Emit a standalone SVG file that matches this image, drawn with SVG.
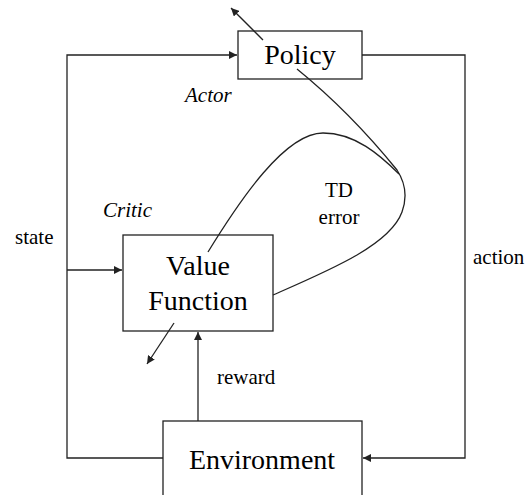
<svg xmlns="http://www.w3.org/2000/svg" width="528" height="495" viewBox="0 0 528 495">
  <style>
    .box { fill: #ffffff; stroke: #222222; stroke-width: 1.3; }
    .wire { fill: none; stroke: #222222; stroke-width: 1.3; }
  </style>
  <defs>
    <marker id="arrow" viewBox="0 0 10 10" refX="10" refY="5" markerWidth="8" markerHeight="8" markerUnits="userSpaceOnUse" orient="auto">
      <path d="M0,0 L10,5 L0,10 z" fill="#222222"/>
    </marker>
  </defs>
  <rect width="528" height="495" fill="#ffffff"/>

  <g id="connectors">
    <!-- state loop: environment -> left rail -> policy / value function -->
    <path class="wire" d="M163,458 H67 V55 H237" marker-end="url(#arrow)"/>
    <path class="wire" d="M67,270 H122" marker-end="url(#arrow)"/>
    <!-- action: policy -> right rail -> environment -->
    <path class="wire" d="M362,55 H465 V458 H363" marker-end="url(#arrow)"/>
    <!-- reward -->
    <path class="wire" d="M198,421 V332" marker-end="url(#arrow)"/>
    <!-- TD error loop -->
    <path class="wire" d="M208,252 C240,200 285,133 323,133 C355,133 380,155 399,174"/>
    <path class="wire" d="M297,69 Q350,112 397,170 Q410,190 402,212 C390,245 330,270 273,295"/>
    <!-- parameter update arrows -->
    <path class="wire" d="M263,40 L231,8" marker-end="url(#arrow)"/>
    <path class="wire" d="M174,323 L147,364" marker-end="url(#arrow)"/>
  </g>

  <g id="policy">
    <rect class="box" x="238" y="31" width="124" height="48" fill-opacity="0"/>
    <text x="300" y="64" font-size="28" text-anchor="middle" style="font-family: 'Liberation Serif'">Policy</text>
  </g>

  <g id="value-function">
    <rect class="box" x="123" y="235" width="150" height="96" fill-opacity="0"/>
    <text x="198" y="275" font-size="28" text-anchor="middle" style="font-family: 'Liberation Serif'">Value</text>
    <text x="198" y="310" font-size="28" text-anchor="middle" style="font-family: 'Liberation Serif'">Function</text>
  </g>

  <g id="environment">
    <rect class="box" x="163" y="421" width="199" height="90"/>
    <text x="262" y="469" font-size="28" text-anchor="middle" style="font-family: 'Liberation Serif'">Environment</text>
  </g>

  <g id="labels">
    <text x="185" y="102" font-size="21" font-style="italic" style="font-family: 'Liberation Serif'">Actor</text>
    <text x="103" y="217" font-size="21" font-style="italic" style="font-family: 'Liberation Serif'">Critic</text>
    <text x="339" y="197" font-size="21" text-anchor="middle" style="font-family: 'Liberation Serif'">TD</text>
    <text x="339" y="224" font-size="21" text-anchor="middle" style="font-family: 'Liberation Serif'">error</text>
    <text x="15" y="244" font-size="21" style="font-family: 'Liberation Serif'">state</text>
    <text x="473" y="264" font-size="21" style="font-family: 'Liberation Serif'">action</text>
    <text x="217" y="384" font-size="21" style="font-family: 'Liberation Serif'">reward</text>
  </g>
</svg>
